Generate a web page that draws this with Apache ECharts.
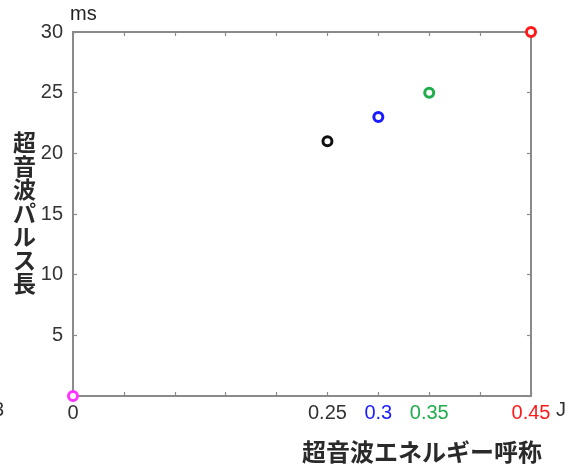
<!DOCTYPE html>
<html>
<head>
<meta charset="utf-8">
<script src="https://cdn.jsdelivr.net/npm/echarts@6/dist/echarts.min.js"></script>
<style>
  html, body { margin: 0; padding: 0; background: #fff; }
  #chart { width: 574px; height: 471px; }
</style>
</head>
<body>
<div id="chart"></div>
<script>
// Nominal ultrasound energy (J) vs. pulse length (ms)
const energies = [0, 0.25, 0.3, 0.35, 0.45];
const pulseLengths = [0, 21, 23, 25, 30];
const pointColors = ['#ff33ff', '#111111', '#1a1aff', '#1fae4b', '#ff1a1a'];

// Labelled x ticks and their colours
const xTickLabels = ['0', '0.25', '0.3', '0.35', '0.45'];
const xTickColors = ['#333333', '#333333', '#1a1aff', '#1fae4b', '#ff1a1a'];
const yTickLabels = ['5', '10', '15', '20', '25', '30'];

const axisGray = '#8a8a8a';
const labelFont = 'Liberation Sans, Arial, sans-serif';
const cjkFont = '"Noto Sans CJK JP", sans-serif';
const tickFontSize = 20;

const chart = echarts.init(document.getElementById('chart'));

const richStyles = {};
xTickLabels.forEach((t, i) => {
  richStyles['c' + i] = { color: xTickColors[i], fontSize: tickFontSize, fontFamily: labelFont };
});

function fmtX(v) {
  const i = xTickLabels.findIndex(t => Math.abs(parseFloat(t) - v) < 1e-6);
  return i < 0 ? '' : '{c' + i + '|' + xTickLabels[i] + '}';
}
function fmtY(v) {
  const s = String(Math.round(v));
  return yTickLabels.includes(s) ? s : '';
}

const boxLine = { show: true, onZero: false, lineStyle: { color: axisGray, width: 2 } };
const innerTick = { show: true, inside: true, length: 4, lineStyle: { color: axisGray, width: 1.2 } };

chart.setOption({
  animation: false,
  backgroundColor: '#fff',
  grid: { left: 73, right: 43, top: 32, bottom: 75, containLabel: false },
  xAxis: [
    {
      type: 'value', min: 0, max: 0.45, interval: 0.05, position: 'bottom',
      axisLine: boxLine, axisTick: innerTick, splitLine: { show: false },
      axisLabel: { formatter: fmtX, rich: richStyles, margin: 7, showMinLabel: true, showMaxLabel: true, hideOverlap: false }
    },
    {
      type: 'value', min: 0, max: 0.45, interval: 0.05, position: 'top',
      axisLine: boxLine, axisTick: innerTick, splitLine: { show: false },
      axisLabel: { show: false }
    }
  ],
  yAxis: [
    {
      type: 'value', min: 0, max: 30, interval: 5, position: 'left',
      axisLine: boxLine, axisTick: innerTick, splitLine: { show: false },
      axisLabel: { formatter: fmtY, color: '#333', fontSize: tickFontSize, fontFamily: labelFont, margin: 10 }
    },
    {
      type: 'value', min: 0, max: 30, interval: 5, position: 'right',
      axisLine: boxLine, axisTick: innerTick, splitLine: { show: false },
      axisLabel: { show: false }
    }
  ],
  series: energies.map((e, i) => ({
    type: 'scatter',
    data: [[e, pulseLengths[i]]],
    symbol: 'circle',
    symbolSize: 9,
    clip: false,
    z: 5,
    itemStyle: { color: '#fff', borderColor: pointColors[i], borderWidth: 3, opacity: 1 }
  })),
  graphic: [
    { type: 'text', left: 70, top: 4, style: { text: 'ms', fontSize: 20, fontFamily: labelFont, fill: '#222' } },
    { type: 'text', left: 556, top: 400, style: { text: 'J', fontSize: tickFontSize, fontFamily: labelFont, fill: '#333' } },
    { type: 'text', left: -7, top: 400, style: { text: '3', fontSize: tickFontSize, fontFamily: labelFont, fill: '#333' } },
    {
      type: 'text', left: 13, top: 131,
      style: { text: '超\n音\n波\nパ\nル\nス\n長', fontSize: 23, lineHeight: 23.5, fontFamily: cjkFont, fontWeight: 'bold', fill: '#2a2a2a', align: 'left' }
    },
    {
      type: 'text', left: 302, top: 440,
      style: { text: '超音波エネルギー呼称', fontSize: 24, fontFamily: cjkFont, fontWeight: 'bold', fill: '#2a2a2a' }
    }
  ]
});
</script>
</body>
</html>
